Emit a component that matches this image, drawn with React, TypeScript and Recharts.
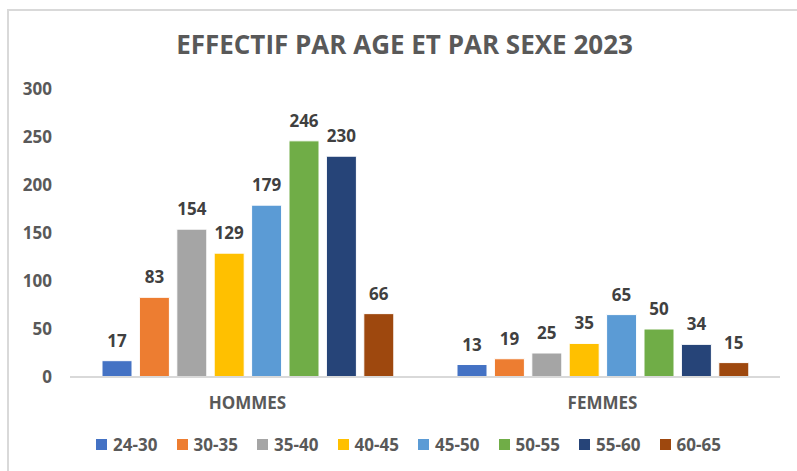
import React from "react";
import { Bar, BarChart, LabelList, Legend, XAxis, YAxis } from "recharts";

const sexes = ["HOMMES", "FEMMES"];
const ageGroups = ["24-30", "30-35", "35-40", "40-45", "45-50", "50-55", "55-60", "60-65"];
const hommes = [17, 83, 154, 129, 179, 246, 230, 66];
const femmes = [13, 19, 25, 35, 65, 50, 34, 15];
const yTicks = [0, 50, 100, 150, 200, 250, 300];
const colors = ["#4472C4", "#ED7D31", "#A5A5A5", "#FFC000", "#5B9BD5", "#70AD47", "#264478", "#9E480E"];

const values = [hommes, femmes];
const data = sexes.map((sexe, i) => {
  const row: Record<string, string | number> = { sexe };
  ageGroups.forEach((g, j) => {
    row[g] = values[i][j];
  });
  return row;
});

const font = "'Open Sans', sans-serif";
const textColor = "#595959";

function LegendContent(props: any) {
  const items = props.payload ?? [];
  return (
    <div style={{ display: "flex", paddingLeft: 96, height: 24, alignItems: "center", fontFamily: font }}>
      {items.map((it: any) => (
        <div key={it.value} style={{ display: "flex", alignItems: "center", width: 80.5 }}>
          <span style={{ width: 11, height: 11, background: it.color, marginRight: 6, display: "inline-block" }} />
          <span style={{ fontSize: 17, fontWeight: 700, color: textColor }}>{it.value}</span>
        </div>
      ))}
    </div>
  );
}

export default function App() {
  return (
    <div style={{ position: "absolute", left: 0, top: 0, width: 797, height: 471, background: "#fff", overflow: "hidden" }}>
      <div
        style={{
          position: "absolute",
          left: 7,
          top: 9,
          width: 820,
          height: 500,
          border: "2px solid #d9d9d9",
          boxSizing: "border-box",
        }}
      />
      <div
        style={{
          position: "absolute",
          left: 6,
          top: 31,
          width: 797,
          textAlign: "center",
          fontFamily: font,
          fontWeight: 700,
          fontSize: 26,
          lineHeight: "26px",
          color: textColor,
        }}
      >
        EFFECTIF PAR AGE ET PAR SEXE 2023
      </div>
      <BarChart
        width={797}
        height={471}
        data={data}
        margin={{ top: 89, right: 17, bottom: 15, left: 0 }}
        barSize={30}
        barGap={7.4}
        style={{ position: "absolute", left: 0, top: 0 }}
      >
        <XAxis
          dataKey="sexe"
          height={55}
          tickLine={false}
          tickSize={0}
          tickMargin={20}
          axisLine={{ stroke: "#d9d9d9", strokeWidth: 2 }}
          tick={{ fill: textColor, fontSize: 17, fontWeight: 700, fontFamily: font }}
        />
        <YAxis
          width={70}
          domain={[0, 300]}
          ticks={yTicks}
          axisLine={false}
          tickLine={false}
          tickSize={0}
          tickMargin={18}
          tick={{ fill: textColor, fontSize: 17, fontWeight: 700, fontFamily: font }}
        />
        <Legend
          verticalAlign="bottom"
          content={<LegendContent />}
          wrapperStyle={{ left: 0, width: 797, height: 24 }}
        />
        {ageGroups.map((g, i) => (
          <Bar key={g} dataKey={g} fill={colors[i]} stroke="#fff" strokeWidth={1} isAnimationActive={false}>
            <LabelList
              dataKey={g}
              position="top"
              offset={14}
              fill="#404040"
              fontSize={17}
              fontWeight={700}
              fontFamily={font}
            />
          </Bar>
        ))}
      </BarChart>
    </div>
  );
}
